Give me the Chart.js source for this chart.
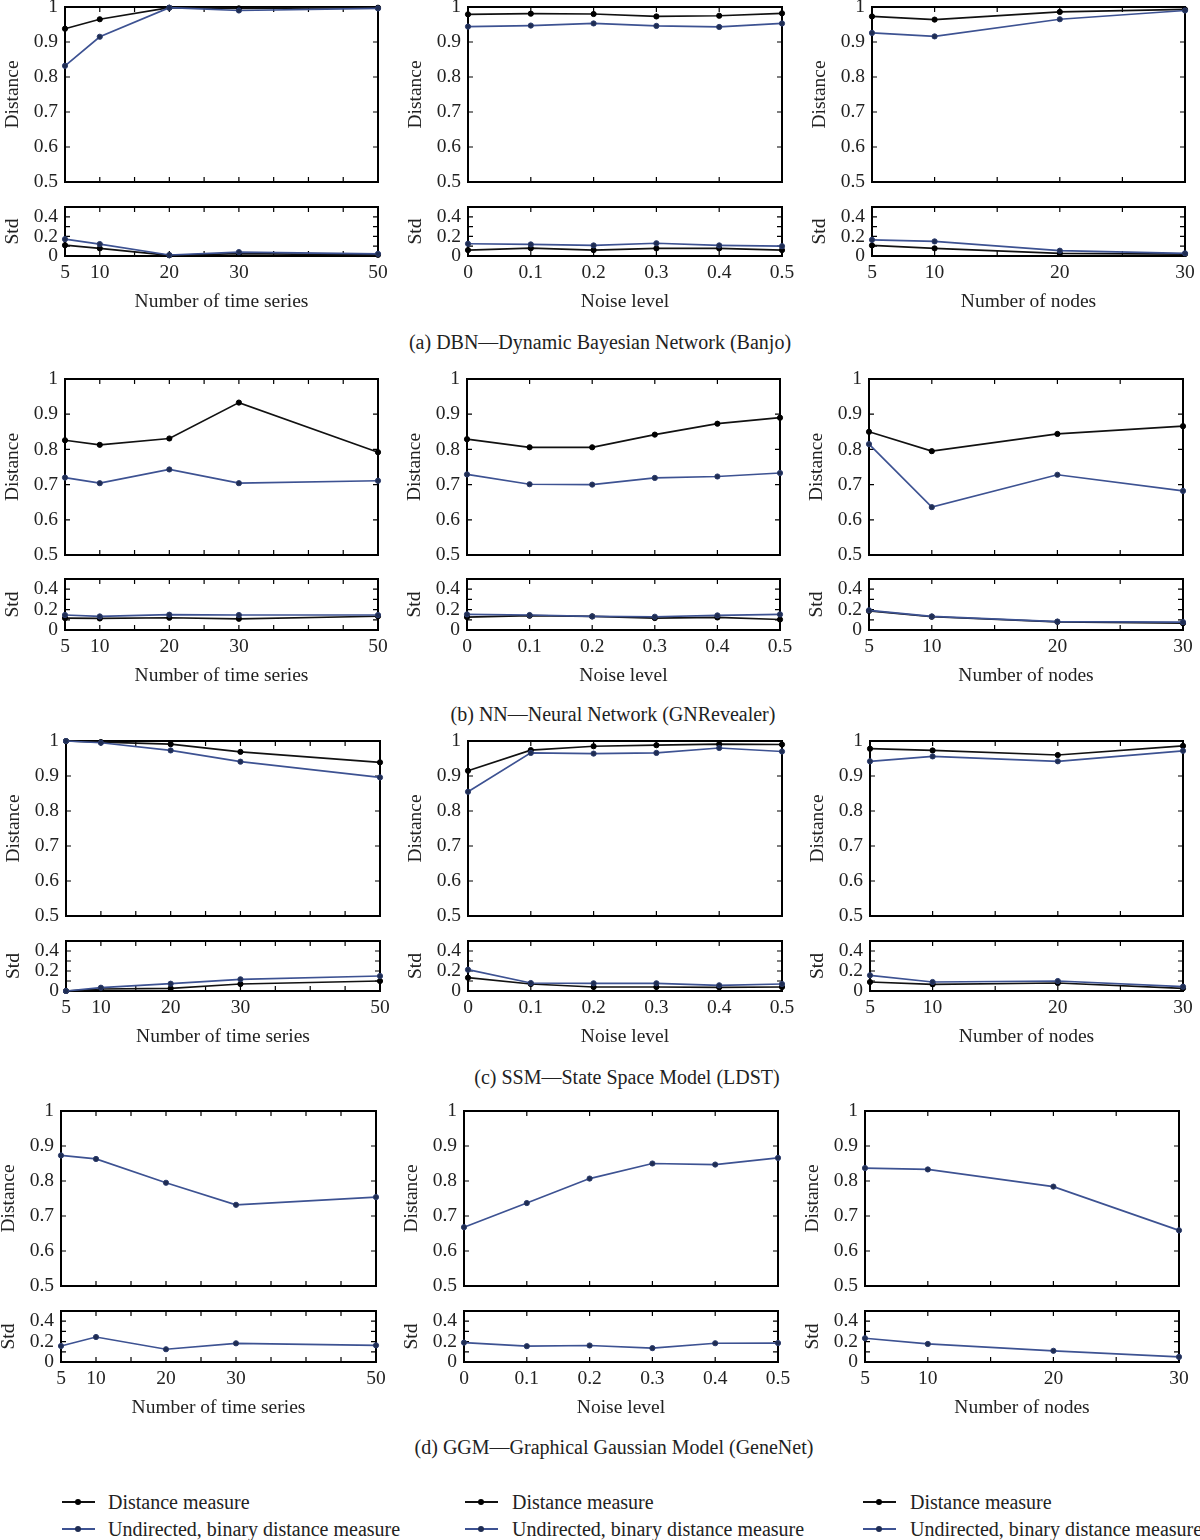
<!DOCTYPE html>
<html><head><meta charset="utf-8">
<script src="https://cdn.jsdelivr.net/npm/chart.js@4"></script>
<style>
body{margin:0;background:#fff;width:1200px;height:1540px;overflow:hidden;position:relative;font-family:"Liberation Serif",serif;color:#222}
canvas{position:absolute}
.cap{position:absolute;font-size:20px;white-space:nowrap;transform:translate(-50%,-50%);line-height:1}
.leg{position:absolute;font-size:20px;white-space:nowrap;line-height:1}
.sw{position:absolute;height:0;width:33px}
.sw i{position:absolute;left:13px;top:-4px;width:6px;height:6px;border-radius:50%}
</style></head><body>
<script>
// ---- categories / tick labels ----
const timeSeries = [5, 10, 20, 30, 50];
const noiseLevels = [0, 0.1, 0.2, 0.3, 0.4, 0.5];
const nodeCounts = [5, 10, 20, 30];
const timeSeriesTicks = [5, 10, 20, 30, 50];
const noiseTicks = [0, 0.1, 0.2, 0.3, 0.4, 0.5];
const nodeTicks = [5, 10, 20, 30];
const distanceTicks = [0.5, 0.6, 0.7, 0.8, 0.9, 1];
const stdTicks = [0, 0.2, 0.4];

// ---- (a) DBN ----
const dbnTsDist   = [0.938, 0.965, 0.998, 0.996, 0.998];
const dbnTsDistU  = [0.832, 0.915, 0.998, 0.990, 0.996];
const dbnTsStd    = [0.110, 0.078, 0.007, 0.025, 0.012];
const dbnTsStdU   = [0.172, 0.122, 0.010, 0.040, 0.022];
const dbnNzDist   = [0.979, 0.981, 0.980, 0.973, 0.975, 0.982];
const dbnNzDistU  = [0.944, 0.947, 0.953, 0.946, 0.943, 0.953];
const dbnNzStd    = [0.060, 0.080, 0.060, 0.078, 0.078, 0.060];
const dbnNzStdU   = [0.125, 0.118, 0.108, 0.130, 0.108, 0.100];
const dbnNdDist   = [0.973, 0.964, 0.986, 0.993];
const dbnNdDistU  = [0.926, 0.916, 0.965, 0.990];
const dbnNdStd    = [0.108, 0.078, 0.027, 0.020];
const dbnNdStdU   = [0.165, 0.149, 0.054, 0.027];
// ---- (b) NN ----
const nnTsDist    = [0.826, 0.813, 0.831, 0.933, 0.792];
const nnTsDistU   = [0.720, 0.704, 0.743, 0.704, 0.711];
const nnTsStd     = [0.117, 0.113, 0.120, 0.110, 0.135];
const nnTsStdU    = [0.147, 0.133, 0.150, 0.147, 0.147];
const nnNzDist    = [0.829, 0.806, 0.806, 0.842, 0.873, 0.890];
const nnNzDistU   = [0.729, 0.701, 0.700, 0.719, 0.723, 0.733];
const nnNzStd     = [0.127, 0.140, 0.133, 0.117, 0.123, 0.103];
const nnNzStdU    = [0.153, 0.147, 0.133, 0.130, 0.143, 0.153];
const nnNdDist    = [0.850, 0.795, 0.844, 0.866];
const nnNdDistU   = [0.815, 0.636, 0.728, 0.682];
const nnNdStd     = [0.187, 0.130, 0.080, 0.067];
const nnNdStdU    = [0.193, 0.133, 0.083, 0.077];
// ---- (c) SSM ----
const ssmTsDist   = [1.000, 0.997, 0.991, 0.969, 0.939];
const ssmTsDistU  = [1.000, 0.995, 0.973, 0.941, 0.896];
const ssmTsStd    = [0.000, 0.020, 0.027, 0.070, 0.100];
const ssmTsStdU   = [0.000, 0.033, 0.073, 0.117, 0.150];
const ssmNzDist   = [0.915, 0.974, 0.985, 0.988, 0.991, 0.990];
const ssmNzDistU  = [0.855, 0.966, 0.964, 0.966, 0.980, 0.970];
const ssmNzStd    = [0.133, 0.070, 0.040, 0.040, 0.037, 0.040];
const ssmNzStdU   = [0.213, 0.080, 0.077, 0.077, 0.057, 0.070];
const ssmNdDist   = [0.978, 0.973, 0.960, 0.986];
const ssmNdDistU  = [0.942, 0.956, 0.942, 0.972];
const ssmNdStd    = [0.090, 0.067, 0.080, 0.027];
const ssmNdStdU   = [0.157, 0.090, 0.100, 0.043];
// ---- (d) GGM (undirected, binary only) ----
const ggmTsDistU  = [0.873, 0.863, 0.795, 0.732, 0.754];
const ggmTsStdU   = [0.157, 0.245, 0.125, 0.183, 0.163];
const ggmNzDistU  = [0.668, 0.737, 0.807, 0.850, 0.847, 0.866];
const ggmNzStdU   = [0.190, 0.155, 0.162, 0.136, 0.184, 0.186];
const ggmNdDistU  = [0.837, 0.833, 0.784, 0.659];
const ggmNdStdU   = [0.233, 0.177, 0.110, 0.050];

const legendLabels = ['Distance measure', 'Undirected, binary distance measure'];

// ---- styles / layout ----
const FONT = '"Liberation Serif", "Times New Roman", serif';
const FS = 19.5;
const TXT = '#222';
const BLACK = '#111';
const BLUE = '#3d5292';
const BLUE_PT = '#1f2d52';

const axisKinds = {
  ts:    {min: 5, max: 50, step: 5,   cats: timeSeries,  labels: timeSeriesTicks, title: 'Number of time series'},
  noise: {min: 0, max: 0.5, step: 0.1, cats: noiseLevels, labels: noiseTicks,     title: 'Noise level'},
  nodes: {min: 5, max: 30, step: 5,   cats: nodeCounts,  labels: nodeTicks,      title: 'Number of nodes'}
};

const rows = [
  {cap: '(a) DBN—Dynamic Bayesian Network (Banjo)', capX: 600, capY: 342,
   dT: 7, dB: 183, sT: 207, sB: 256, xs: [[65, 378], [468, 782], [872, 1185]],
   panels: [['ts', dbnTsDist, dbnTsDistU, dbnTsStd, dbnTsStdU],
            ['noise', dbnNzDist, dbnNzDistU, dbnNzStd, dbnNzStdU],
            ['nodes', dbnNdDist, dbnNdDistU, dbnNdStd, dbnNdStdU]]},
  {cap: '(b) NN—Neural Network (GNRevealer)', capX: 613, capY: 714,
   dT: 379, dB: 556, sT: 579, sB: 630, xs: [[65, 378], [467, 780], [869, 1183]],
   panels: [['ts', nnTsDist, nnTsDistU, nnTsStd, nnTsStdU],
            ['noise', nnNzDist, nnNzDistU, nnNzStd, nnNzStdU],
            ['nodes', nnNdDist, nnNdDistU, nnNdStd, nnNdStdU]]},
  {cap: '(c) SSM—State Space Model (LDST)', capX: 627, capY: 1077,
   dT: 741, dB: 917, sT: 941, sB: 991, xs: [[66, 380], [468, 782], [870, 1183]],
   panels: [['ts', ssmTsDist, ssmTsDistU, ssmTsStd, ssmTsStdU],
            ['noise', ssmNzDist, ssmNzDistU, ssmNzStd, ssmNzStdU],
            ['nodes', ssmNdDist, ssmNdDistU, ssmNdStd, ssmNdStdU]]},
  {cap: '(d) GGM—Graphical Gaussian Model (GeneNet)', capX: 614, capY: 1447,
   dT: 1111, dB: 1287, sT: 1311, sB: 1362, xs: [[61, 376], [464, 778], [865, 1179]],
   panels: [['ts', null, ggmTsDistU, null, ggmTsStdU],
            ['noise', null, ggmNzDistU, null, ggmNzStdU],
            ['nodes', null, ggmNdDistU, null, ggmNdStdU]]}
];

const fmt = v => String(Math.round(v * 10) / 10);
const has = (arr, v) => arr.some(a => Math.abs(a - v) < 1e-9);
const range = (a, b, s) => { const r = []; for (let i = 0; a + i * s <= b + 1e-9; i++) r.push(Math.round((a + i * s) * 1000) / 1000); return r; };

const framePlugin = {
  id: 'frame',
  beforeDatasetsDraw(chart) {
    const {ctx, chartArea: a, scales: {x, y}} = chart;
    ctx.save();
    ctx.strokeStyle = '#000';
    ctx.lineWidth = 1.2;
    const tl = 5;
    ctx.beginPath();
    x.ticks.forEach(t => { const p = x.getPixelForValue(t.value);
      ctx.moveTo(p, a.bottom); ctx.lineTo(p, a.bottom - tl); ctx.moveTo(p, a.top); ctx.lineTo(p, a.top + tl); });
    y.ticks.forEach(t => { const p = y.getPixelForValue(t.value);
      ctx.moveTo(a.left, p); ctx.lineTo(a.left + tl, p); ctx.moveTo(a.right, p); ctx.lineTo(a.right - tl, p); });
    ctx.stroke();
    ctx.lineWidth = 2;
    ctx.strokeRect(a.left, a.top, a.right - a.left, a.bottom - a.top);
    ctx.restore();
  }
};

const Y_AXIS_W = 64, PAD_T = 12, PAD_R = 18, X_AXIS_H = 60;

function series(cats, vals, blue) {
  return {
    data: cats.map((c, i) => ({x: c, y: vals[i]})),
    borderColor: blue ? BLUE : BLACK,
    backgroundColor: blue ? BLUE_PT : '#000',
    pointBackgroundColor: blue ? BLUE_PT : '#000',
    pointBorderColor: blue ? '#2b3b6c' : '#000',
    pointBorderWidth: 1,
    pointRadius: 2.6,
    borderWidth: 1.7,
    tension: 0,
    clip: false
  };
}

function makeChart(plotL, plotR, plotT, plotB, kind, isStd, black, blue) {
  const k = axisKinds[kind];
  const plotW = plotR - plotL, plotH = plotB - plotT;
  const xH = isStd ? X_AXIS_H : 0;
  const padB = 4;
  const W = Y_AXIS_W + plotW + PAD_R, H = PAD_T + plotH + xH + padB;
  const cv = document.createElement('canvas');
  cv.width = W; cv.height = H;
  cv.style.left = (plotL - Y_AXIS_W) + 'px';
  cv.style.top = (plotT - PAD_T) + 'px';
  cv.style.width = W + 'px'; cv.style.height = H + 'px';
  document.body.appendChild(cv);
  const yMin = isStd ? 0 : 0.5, yMax = isStd ? 0.5 : 1;
  const yLabels = isStd ? stdTicks : distanceTicks;
  const ds = [];
  if (blue) ds.push(series(k.cats, blue, true));
  if (black) ds.push(series(k.cats, black, false));
  new Chart(cv, {
    type: 'line',
    data: {datasets: ds},
    plugins: [framePlugin],
    options: {
      responsive: false, animation: false, devicePixelRatio: 1,
      layout: {padding: {top: PAD_T, right: PAD_R, bottom: padB, left: 0}},
      plugins: {legend: {display: false}, tooltip: {enabled: false}},
      scales: {
        x: {
          type: 'linear', min: k.min, max: k.max,
          afterBuildTicks: s => { s.ticks = range(k.min, k.max, k.step).map(v => ({value: v})); },
          afterFit: s => { s.height = xH; s.paddingLeft = 0; s.paddingRight = 0; s.paddingTop = 0; s.paddingBottom = 0; },
          grid: {display: false, drawTicks: false},
          border: {display: false},
          ticks: {display: isStd, autoSkip: false, maxRotation: 0, padding: 5, color: TXT,
                  font: {family: FONT, size: FS},
                  callback: v => has(k.labels, v) ? fmt(v) : ''},
          title: {display: isStd, text: k.title, color: TXT, font: {family: FONT, size: FS}, padding: {top: 0, bottom: 2}}
        },
        y: {
          type: 'linear', min: yMin, max: yMax,
          afterBuildTicks: s => { s.ticks = range(yMin, yMax, 0.1).map(v => ({value: v})); },
          afterFit: s => { s.width = Y_AXIS_W; s.paddingTop = 0; s.paddingBottom = 0; s.paddingLeft = 0; s.paddingRight = 0; },
          grid: {display: false, drawTicks: false},
          border: {display: false},
          ticks: {autoSkip: false, padding: 7, color: TXT, font: {family: FONT, size: FS},
                  callback: v => has(yLabels, v) ? fmt(v) : ''},
          title: {display: true, text: isStd ? 'Std' : 'Distance', color: TXT, font: {family: FONT, size: FS}, padding: 0}
        }
      }
    }
  });
}

rows.forEach(r => {
  r.panels.forEach((p, ci) => {
    const [kind, dBlack, dBlue, sBlack, sBlue] = p;
    const [l, rr] = r.xs[ci];
    makeChart(l, rr, r.dT, r.dB, kind, false, dBlack, dBlue);
    makeChart(l, rr, r.sT, r.sB, kind, true, sBlack, sBlue);
  });
  const c = document.createElement('div');
  c.className = 'cap';
  c.textContent = r.cap;
  c.style.left = r.capX + 'px'; c.style.top = r.capY + 'px';
  document.body.appendChild(c);
});

// ---- legends ----
const legCols = [[62, 108], [465, 512], [863, 910]];
const legRows = [1502, 1529];
legCols.forEach(([lx, tx]) => {
  legendLabels.forEach((lab, i) => {
    const y = legRows[i];
    const sw = document.createElement('div');
    sw.className = 'sw';
    sw.style.left = lx + 'px'; sw.style.top = (y - 1) + 'px';
    sw.style.borderTop = '2.5px solid ' + (i === 0 ? BLACK : BLUE);
    const dot = document.createElement('i');
    dot.style.background = i === 0 ? '#000' : BLUE_PT;
    sw.appendChild(dot);
    document.body.appendChild(sw);
    const t = document.createElement('div');
    t.className = 'leg';
    t.textContent = lab;
    t.style.left = tx + 'px'; t.style.top = (y - 10) + 'px';
    document.body.appendChild(t);
  });
});
</script>
</body></html>
